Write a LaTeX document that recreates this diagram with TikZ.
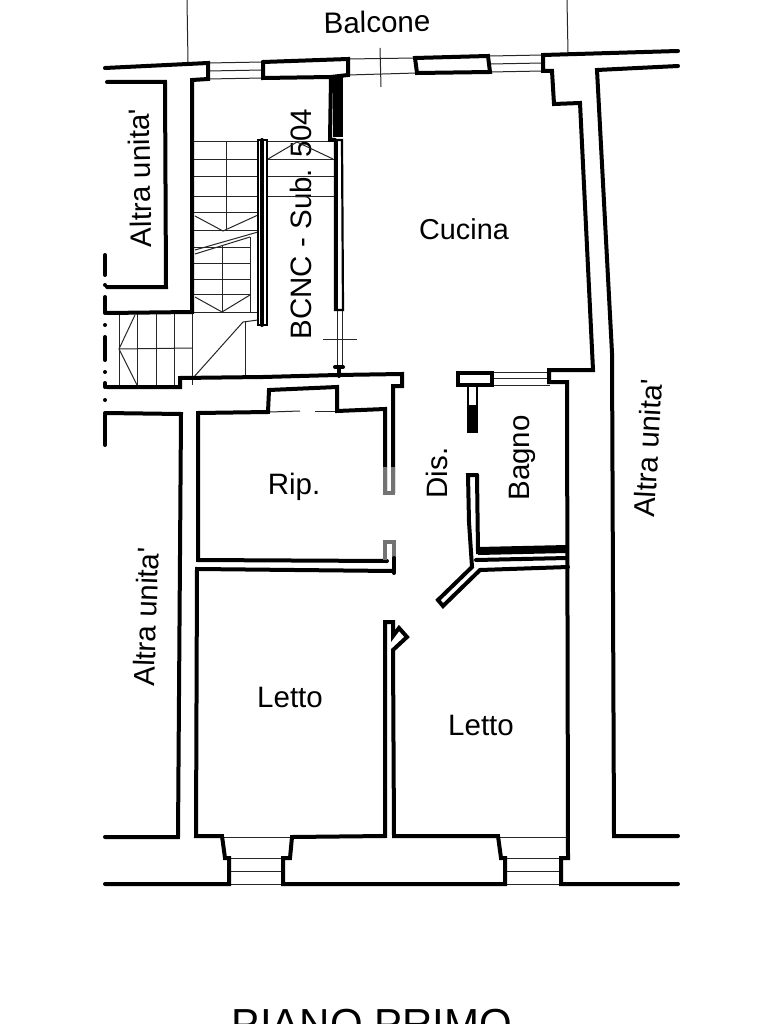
\documentclass[tikz,border=0pt]{standalone}
\usepackage{fontspec}
\setmainfont{Liberation Sans}
\tikzset{
  wall/.style={line width=4pt,line join=miter,line cap=round},
  wallthin/.style={line width=2.2pt,line join=miter},
  fine/.style={line width=1pt,black!85},
  room/.style={font=\fontsize{29.5}{31}\selectfont,inner sep=0pt}
}
\begin{document}
\begin{tikzpicture}[x=1pt,y=-1pt]
\clip (0,0) rectangle (768,1024);
\fill[white] (0,0) rectangle (768,1024);
% labels
\node[room,rotate=1] (balcone) at (377,22) {Balcone};
\node[room,font=\fontsize{28.8}{30}\selectfont] (cucina) at (464,229) {Cucina};
\node[room,rotate=91] (altra1) at (140,178) {Altra unita\textquotesingle};
\node[room,rotate=88] (altra2) at (146,617) {Altra unita\textquotesingle};
\node[room,rotate=87] (altra3) at (648,448) {Altra unita\textquotesingle};
\node[room,rotate=90] (bcnc) at (301,224) {BCNC - Sub. 504};
\node[room] (rip) at (294,487) {Rip.};
\node[room,rotate=90] (dis) at (437,473) {Dis.};
\node[room,rotate=90] (bagno) at (522,458) {Bagno};
\node[room] (letto1) at (290,697) {Letto};
\node[room] (letto2) at (481,725) {Letto};
\node[font=\fontsize{42}{44}\selectfont,anchor=base,inner sep=0pt] (piano) at (372,1038) {PIANO PRIMO};
% balcony lines
\draw[fine] (187,0) -- (188,62);
\draw[fine] (567,0) -- (568,53);
\draw[fine] (208,63) -- (263,62);
\draw[fine] (208,71) -- (263,70);
\draw[fine] (208,79) -- (263,78);
\draw[fine] (348,59) -- (415,58);
\draw[fine] (348,75) -- (417,73);
\draw[fine] (380,48) -- (381,87);
\draw[fine] (490,56) -- (543,55);
\draw[fine] (490,64) -- (543,63);
\draw[fine] (490,72) -- (543,71);
% upper flight
\foreach \y in {142,160,177,197,213} \draw[fine] (193,\y) -- (258,\y);
\foreach \y in {142,160,177,197} \draw[fine] (267,\y) -- (335,\y);
\draw[fine] (226,142) -- (226,230);
\draw[fine] (195,216) -- (223,231) -- (258,215);
\draw[fine] (268,159) -- (297,142) -- (333,159);
\draw[fine] (195,250) -- (258,232);
\draw[fine] (195,254) -- (250,237);
\draw[fine] (193,231) -- (258,231);
% lower flight
\foreach \y in {247,263,279,294} \draw[fine] (194,\y) -- (250,\y);
\draw[fine] (222,245) -- (222,312);
\draw[fine] (250,237) -- (250,312);
\draw[fine] (195,297) -- (222,312) -- (250,295);
\draw[fine] (192,312) -- (258,312);
\draw[fine] (193,378) -- (243,322) -- (258,320);
\draw[fine] (245,322) -- (245,377);
% left flight
\foreach \x in {119,137,156,174,192} \draw[fine] (\x,314) -- (\x,385);
\draw[fine] (119,349) -- (192,348);
\draw[fine] (135,315) -- (119,349) -- (137,385);
% door lines by the hall
\draw[fine] (337,310) -- (337,367);
\draw[fine] (342,310) -- (342,367);
\draw[fine] (323,339) -- (357,339);
\draw[fine] (492,372) -- (550,372);
\draw[fine] (492,378) -- (550,378);
\draw[fine] (492,385) -- (550,385);
\draw[fine] (270,412) -- (300,411);
\draw[fine] (315,411) -- (335,411);
% bottom windows
\draw[fine] (222,837) -- (292,837);
\foreach \y in {858,871,884} \draw[fine] (229,\y) -- (283,\y);
\draw[fine] (498,837) -- (568,837);
\foreach \y in {858,871,884} \draw[fine] (505,\y) -- (561,\y);
% outer walls
\draw[wall] (105,68) -- (208,63) -- (208,79) -- (192,80) -- (192,312) -- (107,313);
\draw[wall] (107,82) -- (165,82) -- (166,287) -- (107,287);
\draw[wall] (263,62) -- (348,59) -- (348,75) -- (331,77) -- (330,140) -- (335,140);
\draw[wall] (263,62) -- (263,78) -- (331,77);
\draw[wall] (415,58) -- (488,56) -- (490,72) -- (417,73) -- cycle;
\draw[wall] (678,51) -- (543,55) -- (543,71) -- (552,71) -- (554,104) -- (580,103) -- (593,370) -- (549,370) -- (549,382) -- (567,382) -- (568,858) -- (561,858) -- (561,884) -- (678,884);
\draw[wall] (678,66) -- (597,70) -- (612,353) -- (614,836) -- (678,836);
% stair partitions
\fill (333,75) rectangle (343,137);
\draw[wallthin] (335,140) -- (342,140) -- (343,310) -- (335,310) -- cycle;
\draw[wallthin] (337,140) -- (337,310);
\draw[wallthin] (258,140) -- (267,140) -- (267,325) -- (258,325) -- cycle;
\draw[wall] (262,140) -- (262,325);
\draw[wall] (335,367) -- (343,367);
% hall walls
\draw[wall] (107,387) -- (180,387) -- (180,378) -- (263,377) -- (337,375) -- (402,374) -- (402,386) -- (393,386) -- (393,493);
\draw[wall] (339,367) -- (339,376);
\draw[wall] (105,413) -- (181,414) -- (178,837) -- (105,837);
% rip.
\draw[wall] (385,493) -- (385,409) -- (337,411) -- (337,387) -- (269,390) -- (268,412) -- (198,413) -- (198,560) -- (387,561);
\draw[line width=3.6pt,black!55] (385,467) -- (385,493) -- (393,493) -- (393,467);
\draw[line width=3.6pt,black!55] (385,560) -- (385,542) -- (394,542) -- (394,560);
\draw[wall] (394,558) -- (394,573);
% letto rooms
\draw[wall] (393,571) -- (197,569) -- (196,836) -- (222,836) -- (225,858) -- (229,858) -- (229,884) -- (105,884);
\draw[wall] (283,884) -- (505,884) -- (505,858) -- (501,858) -- (498,836) -- (394,836) -- (393,650) -- (407,637) -- (399,628) -- (393,636) -- (393,622) -- (385,622) -- (385,836) -- (292,837) -- (290,858) -- (283,858) -- cycle;
% bagno
\draw[wall] (458,373) -- (492,373) -- (492,385) -- (458,385) -- cycle;
\draw[wallthin] (468,386) -- (468,432) -- (477,432) -- (477,386);
\fill (467,405) rectangle (477,432);
\draw[wall] (477,475) -- (468,475) -- (469,522) -- (472,567) -- (438,600) -- (443,606) -- (480,570) -- (568,567);
\draw[wall] (477,475) -- (478,552) -- (567,550);
\fill (478,547) -- (567,545) -- (567,553) -- (478,555) -- cycle;
\draw[wall] (476,560) -- (567,558);
% dashed party wall
\foreach \a/\b in {255/275,297/313,337/360,383/387,415/445} \draw[wall] (105,\a) -- (105,\b);
\foreach \a in {285,325,372,400} \fill (105,\a) circle (2pt);
\end{tikzpicture}
\end{document}
